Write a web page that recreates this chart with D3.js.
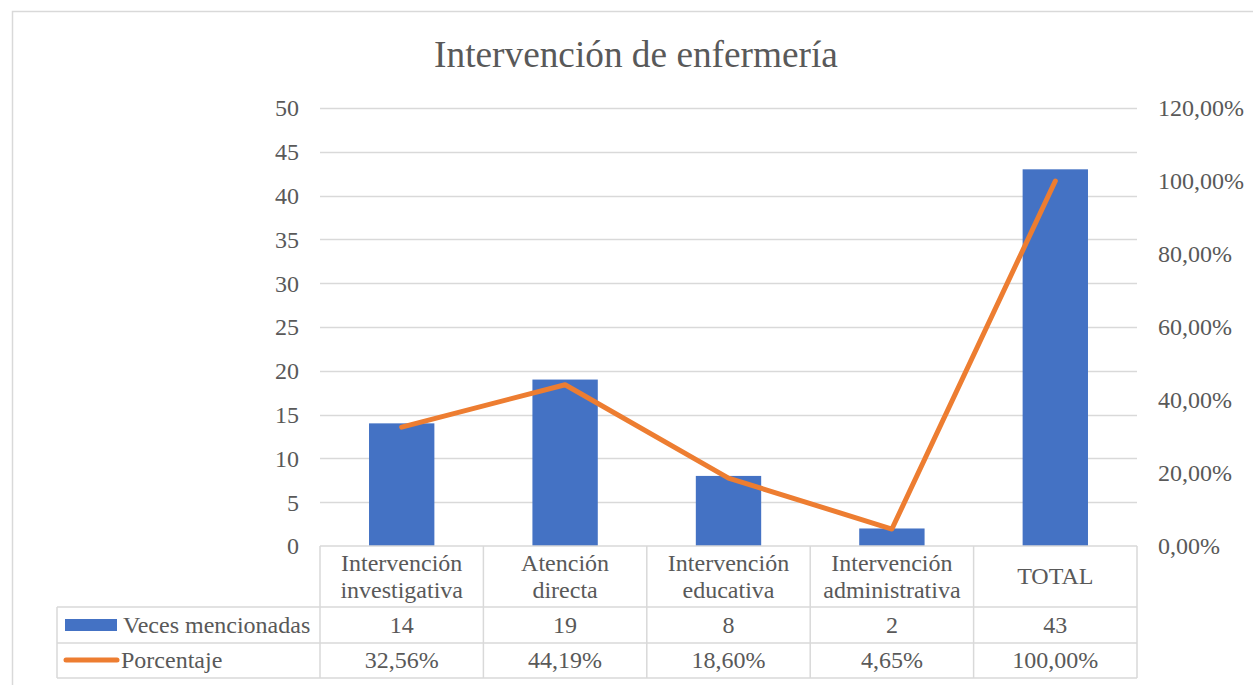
<!DOCTYPE html>
<html>
<head>
<meta charset="utf-8">
<script src="https://cdn.jsdelivr.net/npm/d3@7"></script>
<style>
  body { margin: 0; background: #fff; }
  text { font-family: "Liberation Serif", "Times New Roman", serif; fill: #595959; }
</style>
</head>
<body>
<div id="chart"></div>
<script>
const categories = [["Intervención", "investigativa"], ["Atención", "directa"], ["Intervención", "educativa"], ["Intervención", "administrativa"], ["TOTAL"]];
const veces = [14, 19, 8, 2, 43];
const porcentaje = [0.3256, 0.4419, 0.1860, 0.0465, 1.0];
const leftTicks = [0, 5, 10, 15, 20, 25, 30, 35, 40, 45, 50];
const rightTicks = [0, 0.2, 0.4, 0.6, 0.8, 1.0, 1.2];

const width = 1253, height = 685;
const plot = { left: 320, right: 1137, top: 108, bottom: 546 };
const blue = "#4472C4", orange = "#ED7D31", grid = "#d9d9d9";
const fs = 24;

const svg = d3.select("#chart").append("svg")
    .attr("width", width)
    .attr("height", height);

// outer chart border (right and bottom edges fall outside the picture)
svg.append("rect")
    .attr("x", 12.5).attr("y", 11.5)
    .attr("width", 1260).attr("height", 700)
    .attr("fill", "none").attr("stroke", grid).attr("stroke-width", 1.5);

svg.append("text")
    .attr("x", 636).attr("y", 67)
    .attr("text-anchor", "middle")
    .attr("font-size", 37.3)
    .text("Intervención de enfermería");

const x = d3.scaleBand()
    .domain(d3.range(categories.length))
    .range([plot.left, plot.right])
    .paddingInner(0.6).paddingOuter(0.3);
const xCol = d3.scaleBand()
    .domain(d3.range(categories.length))
    .range([plot.left, plot.right]);
const yLeft = d3.scaleLinear().domain([0, 50]).range([plot.bottom, plot.top]);
const yRight = d3.scaleLinear().domain([0, 1.2]).range([plot.bottom, plot.top]);

// gridlines
svg.append("g").selectAll("line").data(leftTicks.slice(1)).join("line")
    .attr("x1", plot.left).attr("x2", plot.right)
    .attr("y1", d => Math.round(yLeft(d)) + 0.5).attr("y2", d => Math.round(yLeft(d)) + 0.5)
    .attr("stroke", grid).attr("stroke-width", 1.5);

// left axis
const axL = svg.append("g")
    .attr("transform", `translate(${plot.left - 21},0)`)
    .call(d3.axisLeft(yLeft).tickValues(leftTicks).tickSize(0).tickPadding(0));
axL.select(".domain").remove();
axL.selectAll("text").attr("font-size", fs).attr("fill", "#595959")
    .attr("font-family", "Liberation Serif").attr("dy", "0.33em");

// right axis
const fmtPct = d => d3.format(".2f")(d * 100).replace(".", ",") + "%";
const axR = svg.append("g")
    .attr("transform", `translate(${plot.right + 21},0)`)
    .call(d3.axisRight(yRight).tickValues(rightTicks).tickFormat(fmtPct).tickSize(0).tickPadding(0));
axR.select(".domain").remove();
axR.selectAll("text").attr("font-size", fs).attr("fill", "#595959")
    .attr("font-family", "Liberation Serif").attr("dy", "0.33em");

// bars
svg.append("g").selectAll("rect").data(veces).join("rect")
    .attr("x", (d, i) => x(i))
    .attr("width", x.bandwidth())
    .attr("y", d => yLeft(d))
    .attr("height", d => plot.bottom - yLeft(d))
    .attr("fill", blue);

// line
const line = d3.line()
    .x((d, i) => xCol(i) + xCol.bandwidth() / 2)
    .y(d => yRight(d));
svg.append("path")
    .datum(porcentaje)
    .attr("d", line)
    .attr("fill", "none")
    .attr("stroke", orange)
    .attr("stroke-width", 5)
    .attr("stroke-linecap", "round")
    .attr("stroke-linejoin", "round");

// data table
const rows = { top: 546, r1: 607, r2: 643, bottom: 678 };
const legendLeft = 57;
const tbl = svg.append("g").attr("fill", "none").attr("stroke", grid).attr("stroke-width", 1.5);
tbl.append("line").attr("x1", plot.left).attr("x2", plot.right).attr("y1", rows.top).attr("y2", rows.top);
[rows.r1, rows.r2, rows.bottom].forEach(yy => {
    tbl.append("line").attr("x1", legendLeft).attr("x2", plot.right).attr("y1", yy).attr("y2", yy);
});
tbl.append("line").attr("x1", legendLeft).attr("x2", legendLeft).attr("y1", rows.r1).attr("y2", rows.bottom);
d3.range(categories.length + 1).forEach(i => {
    const xx = i < categories.length ? xCol(i) : plot.right;
    tbl.append("line").attr("x1", xx).attr("x2", xx).attr("y1", rows.top).attr("y2", rows.bottom);
});

// category labels
const catG = svg.append("g");
categories.forEach((lines, i) => {
    const cx = xCol(i) + xCol.bandwidth() / 2;
    const t = catG.append("text").attr("text-anchor", "middle").attr("font-size", fs);
    const y0 = lines.length === 1 ? 584 : 571;
    lines.forEach((s, j) => {
        t.append("tspan").attr("x", cx).attr("y", y0 + j * 27).text(s);
    });
});

// values rows
svg.append("g").selectAll("text").data(veces).join("text")
    .attr("x", (d, i) => xCol(i) + xCol.bandwidth() / 2)
    .attr("y", 633)
    .attr("text-anchor", "middle").attr("font-size", fs)
    .text(d => d);
svg.append("g").selectAll("text").data(porcentaje).join("text")
    .attr("x", (d, i) => xCol(i) + xCol.bandwidth() / 2)
    .attr("y", 668)
    .attr("text-anchor", "middle").attr("font-size", fs)
    .text(fmtPct);

// legend keys
svg.append("rect").attr("x", 65).attr("y", 619).attr("width", 52).attr("height", 12).attr("fill", blue);
svg.append("text").attr("x", 123).attr("y", 633).attr("font-size", fs).text("Veces mencionadas");
svg.append("line").attr("x1", 66).attr("x2", 117).attr("y1", 660).attr("y2", 660)
    .attr("stroke", orange).attr("stroke-width", 5).attr("stroke-linecap", "round");
svg.append("text").attr("x", 121).attr("y", 668).attr("font-size", fs).text("Porcentaje");
</script>
</body>
</html>
